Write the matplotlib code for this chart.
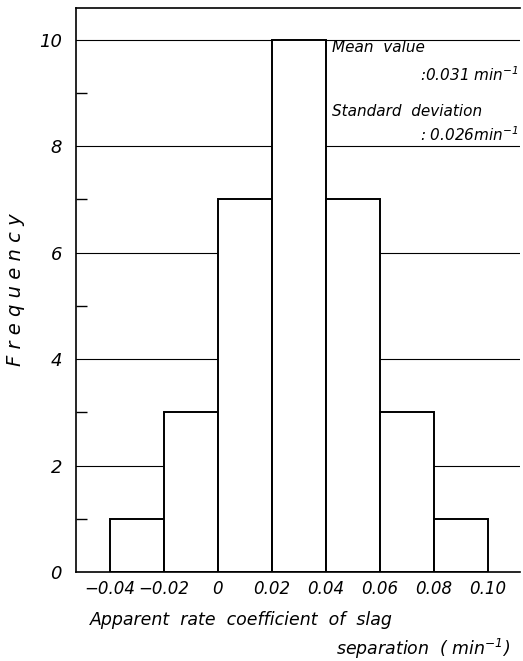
import matplotlib
matplotlib.use("Agg")
import matplotlib.pyplot as plt
from matplotlib.ticker import FixedLocator

bin_edges = [-0.04, -0.02, 0.0, 0.02, 0.04, 0.06, 0.08, 0.10]
frequencies = [1, 3, 7, 10, 7, 3, 1]
x_tick_values = [-0.04, -0.02, 0.0, 0.02, 0.04, 0.06, 0.08, 0.10]
x_tick_labels = ["\u22120.04", "\u22120.02", "0", "0.02", "0.04", "0.06", "0.08", "0.10"]
y_tick_values = [0, 2, 4, 6, 8, 10]
y_tick_labels = ["0", "2", "4", "6", "8", "10"]

plt.rcParams['font.family'] = ['DejaVu Sans']
plt.rcParams['font.style'] = 'italic'

fig = plt.figure(figsize=(5.23, 6.61), dpi=100)
ax = fig.add_axes([0.1453, 0.1347, 0.994 - 0.1453, 0.988 - 0.1347])

for yv in y_tick_values[1:]:
    ax.axhline(yv, color='black', lw=0.8, zorder=1)

lefts = bin_edges[:-1]
widths = [bin_edges[i + 1] - bin_edges[i] for i in range(len(frequencies))]
ax.bar(lefts, frequencies, width=widths, align='edge', facecolor='white',
       edgecolor='black', linewidth=1.4, zorder=2)

ax.set_xlim(-0.0526, 0.112)
ax.set_ylim(0, 10.6)

ax.spines['right'].set_visible(False)
for s in ['left', 'bottom', 'top']:
    ax.spines[s].set_linewidth(1.2)

ax.set_xticks(x_tick_values)
ax.set_xticklabels(x_tick_labels, fontsize=12, fontstyle='italic')
ax.set_yticks(y_tick_values)
ax.set_yticklabels(y_tick_labels, fontsize=13, fontstyle='italic')
ax.yaxis.set_minor_locator(FixedLocator([1, 3, 5, 7, 9]))
ax.tick_params(axis='x', which='both', length=0, pad=6)
ax.tick_params(axis='y', which='major', length=0, pad=10)
ax.tick_params(axis='y', which='minor', direction='in', length=8, width=1)

ax.set_ylabel("F r e q u e n c y", fontsize=14, fontstyle='italic', labelpad=10)

fig.text(0.172, 0.062, "Apparent  rate  coefficient  of  slag", fontsize=12.5,
         fontstyle='italic', ha='left', va='center')
fig.text(0.975, 0.018, "separation  ( min$^{-1}$)", fontsize=12.5,
         fontstyle='italic', ha='right', va='center')

ax.text(0.0425, 9.85, "Mean  value", fontsize=11, fontstyle='italic', ha='left', va='center')
ax.text(0.1115, 9.35, ":0.031 min$^{-1}$", fontsize=11, fontstyle='italic', ha='right', va='center')
ax.text(0.0425, 8.65, "Standard  deviation", fontsize=11, fontstyle='italic', ha='left', va='center')
ax.text(0.1115, 8.22, ": 0.026min$^{-1}$", fontsize=11, fontstyle='italic', ha='right', va='center')

fig.savefig("out.png", dpi=100, facecolor='white')
